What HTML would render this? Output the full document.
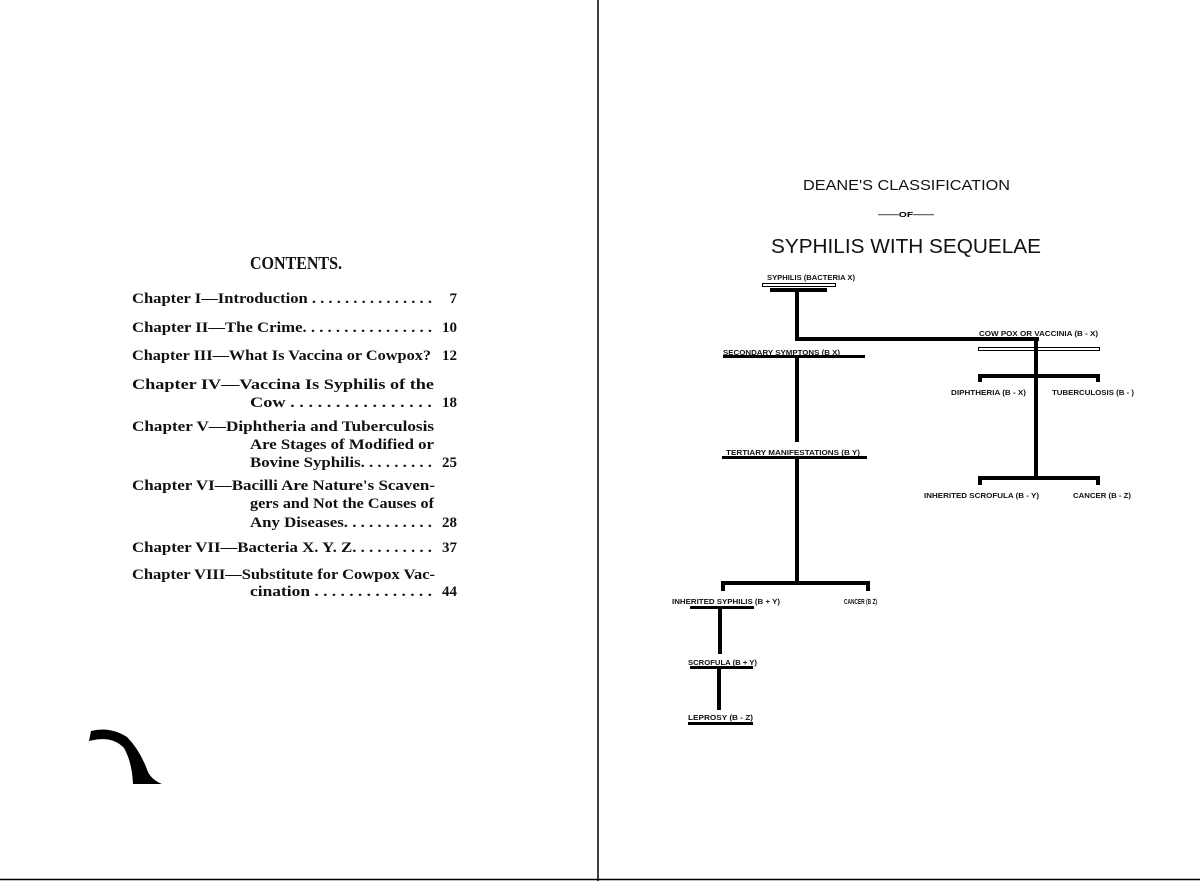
<!DOCTYPE html>
<html><head><meta charset="utf-8"><style>
html,body{margin:0;padding:0;background:#fff;width:1200px;height:881px;overflow:hidden}
svg{display:block}
.s{font-family:"Liberation Serif",serif;font-size:15px;font-weight:bold;fill:#111}
.d{font-family:"Liberation Sans",sans-serif;font-size:7px;font-weight:bold;fill:#111}
</style></head><body>
<svg width="1200" height="881" viewBox="0 0 1200 881">
<rect x="0" y="0" width="1200" height="881" fill="#fff"/>
<line x1="598" y1="0" x2="598" y2="881" stroke="#000" stroke-width="1.5"/>
<line x1="0" y1="879.5" x2="1200" y2="879.5" stroke="#000" stroke-width="1.5"/>

<text x="250" y="269" class="s" style="font-size:18px" textLength="92" lengthAdjust="spacingAndGlyphs">CONTENTS.</text>
<g class="s">
<text x="132" y="303" textLength="300" lengthAdjust="spacingAndGlyphs">Chapter I—Introduction  . . . . . . . . . . . . . . .</text>
<text x="457" y="303" text-anchor="end">7</text>
<text x="132" y="332" textLength="300" lengthAdjust="spacingAndGlyphs">Chapter II—The Crime. . . . . . . . . . . . . . . .</text>
<text x="457" y="332" text-anchor="end">10</text>
<text x="132" y="360" textLength="299" lengthAdjust="spacingAndGlyphs">Chapter III—What Is Vaccina or Cowpox?</text>
<text x="457" y="360" text-anchor="end">12</text>
<text x="132" y="389" textLength="302" lengthAdjust="spacingAndGlyphs">Chapter IV—Vaccina Is Syphilis of the</text>
<text x="250" y="407" textLength="182" lengthAdjust="spacingAndGlyphs">Cow  . . . . . . . . . . . . . . . .</text>
<text x="457" y="407" text-anchor="end">18</text>
<text x="132" y="431" textLength="302" lengthAdjust="spacingAndGlyphs">Chapter V—Diphtheria and Tuberculosis</text>
<text x="250" y="449" textLength="184" lengthAdjust="spacingAndGlyphs">Are Stages of Modified or</text>
<text x="250" y="467" textLength="182" lengthAdjust="spacingAndGlyphs">Bovine Syphilis. . . . . . . . .</text>
<text x="457" y="467" text-anchor="end">25</text>
<text x="132" y="490" textLength="303" lengthAdjust="spacingAndGlyphs">Chapter VI—Bacilli Are Nature's Scaven-</text>
<text x="250" y="508" textLength="184" lengthAdjust="spacingAndGlyphs">gers and Not the Causes of</text>
<text x="250" y="527" textLength="182" lengthAdjust="spacingAndGlyphs">Any Diseases. . . . . . . . . . .</text>
<text x="457" y="527" text-anchor="end">28</text>
<text x="132" y="552" textLength="300" lengthAdjust="spacingAndGlyphs">Chapter VII—Bacteria X. Y. Z. . . . . . . . . .</text>
<text x="457" y="552" text-anchor="end">37</text>
<text x="132" y="579" textLength="303" lengthAdjust="spacingAndGlyphs">Chapter VIII—Substitute for Cowpox Vac-</text>
<text x="250" y="596" textLength="182" lengthAdjust="spacingAndGlyphs">cination  . . . . . . . . . . . . . .</text>
<text x="457" y="596" text-anchor="end">44</text>
</g>
<path d="M89,741 L91,731 Q110,726 127,737 Q140,750 148,772 Q152,780 162,784 L133,784 Q132,762 124,748 Q112,735 89,741 Z" fill="#000"/>

<text x="803" y="190" style="font-family:'Liberation Sans',sans-serif;font-size:15px;fill:#111" textLength="207" lengthAdjust="spacingAndGlyphs">DEANE'S CLASSIFICATION</text>
<text x="906" y="217" text-anchor="middle" style="font-family:'Liberation Sans',sans-serif;font-size:7px;font-weight:bold" textLength="56" lengthAdjust="spacingAndGlyphs">——OF——</text>
<text x="771" y="253" style="font-family:'Liberation Sans',sans-serif;font-size:20px;fill:#111" textLength="270" lengthAdjust="spacingAndGlyphs">SYPHILIS WITH SEQUELAE</text>

<g class="d">
<text x="767" y="280" textLength="88" lengthAdjust="spacingAndGlyphs">SYPHILIS (BACTERIA X)</text>
<text x="979" y="336" textLength="119" lengthAdjust="spacingAndGlyphs">COW POX OR VACCINIA (B - X)</text>
<text x="723" y="355" textLength="117" lengthAdjust="spacingAndGlyphs">SECONDARY SYMPTONS (B X)</text>
<text x="951" y="395" textLength="75" lengthAdjust="spacingAndGlyphs">DIPHTHERIA (B - X)</text>
<text x="1052" y="395" textLength="82" lengthAdjust="spacingAndGlyphs">TUBERCULOSIS (B - )</text>
<text x="726" y="455" textLength="134" lengthAdjust="spacingAndGlyphs">TERTIARY MANIFESTATIONS (B Y)</text>
<text x="924" y="498" textLength="115" lengthAdjust="spacingAndGlyphs">INHERITED SCROFULA (B - Y)</text>
<text x="1073" y="498" textLength="58" lengthAdjust="spacingAndGlyphs">CANCER (B - Z)</text>
<text x="672" y="604" textLength="108" lengthAdjust="spacingAndGlyphs">INHERITED SYPHILIS (B + Y)</text>
<text x="844" y="604" textLength="33" lengthAdjust="spacingAndGlyphs">CANCER (B Z)</text>
<text x="688" y="665" textLength="69" lengthAdjust="spacingAndGlyphs">SCROFULA (B + Y)</text>
<text x="688" y="720" textLength="65" lengthAdjust="spacingAndGlyphs">LEPROSY (B - Z)</text>
</g>
<g fill="none" stroke="#000">
<rect x="762.5" y="283.5" width="73" height="3" stroke-width="1"/>
<rect x="978.5" y="347.5" width="121" height="3" stroke-width="1"/>
</g>
<g fill="#000">
<rect x="770" y="288" width="57" height="4"/>
<rect x="795" y="290" width="4" height="51"/>
<rect x="795" y="337" width="244" height="4"/>
<rect x="1034" y="337" width="4" height="142"/>
<rect x="978" y="374" width="122" height="4"/><rect x="978" y="374" width="4" height="8"/><rect x="1096" y="374" width="4" height="8"/>
<rect x="723" y="355" width="142" height="3"/>
<rect x="795" y="355" width="4" height="87"/>
<rect x="722" y="456" width="145" height="3"/>
<rect x="978" y="476" width="122" height="4"/><rect x="978" y="476" width="4" height="9"/><rect x="1096" y="476" width="4" height="9"/>
<rect x="795" y="456" width="4" height="128"/>
<rect x="721" y="581" width="149" height="4"/><rect x="721" y="581" width="4" height="10"/><rect x="866" y="581" width="4" height="10"/>
<rect x="690" y="606" width="64" height="3"/>
<rect x="718" y="606" width="4" height="48"/>
<rect x="690" y="666" width="63" height="3"/>
<rect x="717" y="666" width="4" height="44"/>
<rect x="688" y="722" width="65" height="3"/>
</g>
</svg>
</body></html>
